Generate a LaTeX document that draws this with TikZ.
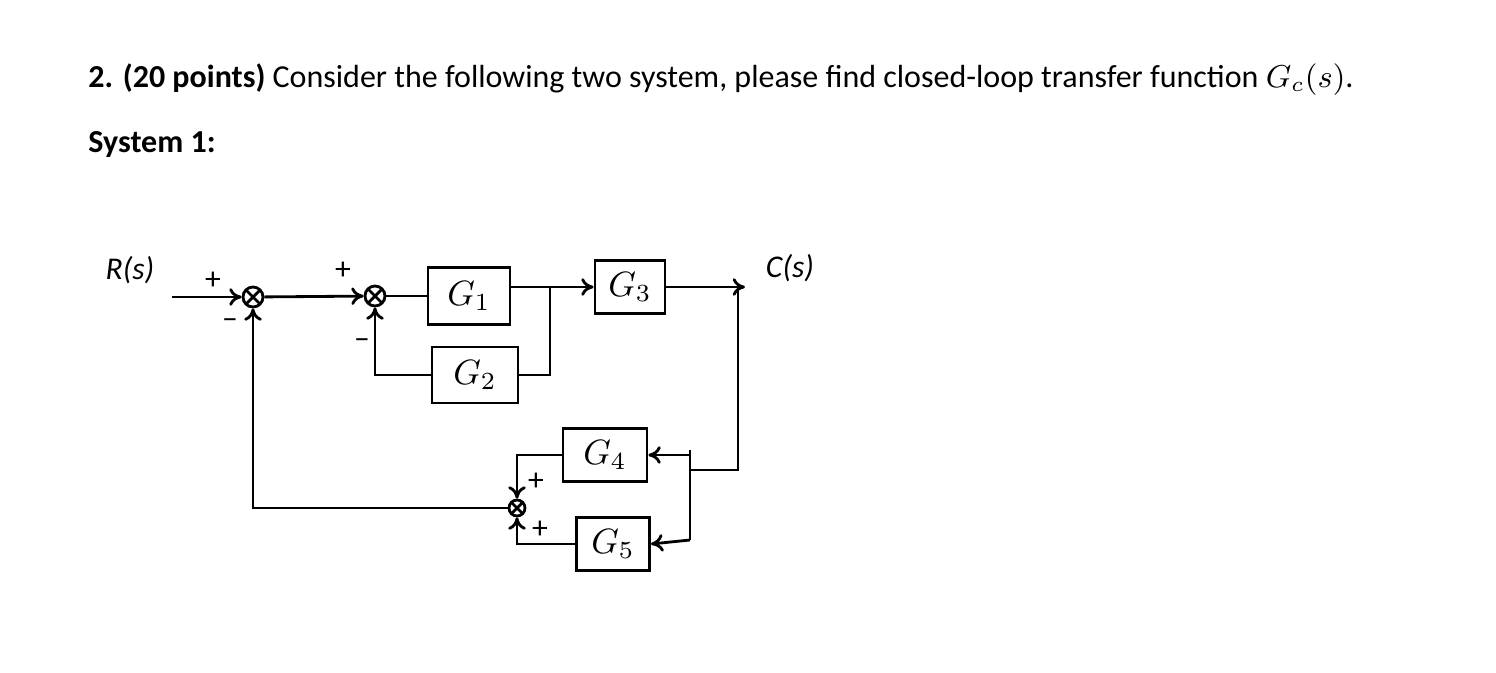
\documentclass[tikz,border=0pt]{standalone}
\usepackage{fontspec}
\setmainfont{Carlito}
\usetikzlibrary{arrows.meta}
\begin{document}
\begin{tikzpicture}[x=0.01cm,y=-0.01cm,
  sumj/.style={draw,thick,circle,minimum size=0.2cm,inner sep=0pt,
    path picture={\draw (path picture bounding box.north west)--(path picture bounding box.south east)
      (path picture bounding box.north east)--(path picture bounding box.south west);}},
  sig/.style={font=\fontsize{9}{10}\selectfont},
  lab/.style={font=\fontsize{9}{10}\selectfont\itshape},
  ln/.style={thick},
  ar/.style={thick,-{To[length=3.5pt,width=5pt]}}]
\useasboundingbox (0,0) rectangle (1496,672);
\node[anchor=west,font=\fontsize{9.1}{10}\selectfont] (title) at (76,80) {\textbf{2. (20 points)} Consider the following two system, please find closed-loop transfer function $G_c(s)$.};
\node[anchor=west,font=\fontsize{9.1}{10}\selectfont\bfseries] (sys) at (76,145) {System 1:};
\node[lab] (R) at (130,270) {R(s)};
\node[lab] (C) at (790,268) {C(s)};
\node[sumj] (s1) at (253,297) {};
\node[sumj] (s2) at (375,296) {};
\node[sumj,minimum size=0.16cm] (s3) at (517,508) {};
\node[draw,thick,minimum width=0.82cm,minimum height=0.57cm] (G1) at (469,296) {$G_1$};
\node[draw,thick,minimum width=0.86cm,minimum height=0.56cm] (G2) at (475,375) {$G_2$};
\node[draw,thick,minimum width=0.70cm,minimum height=0.50cm] (G3) at (630,287) {$G_3$};
\node[draw,thick,minimum width=0.84cm,minimum height=0.45cm] (G4) at (605,455) {$G_4$};
\node[draw,thick,minimum width=0.73cm,minimum height=0.48cm] (G5) at (613,544) {$G_5$};
\node[sig] at (213,281) {+};
\node[sig] at (230,324) {\textendash};
\node[sig] at (343,271) {+};
\node[sig] at (362,344) {\textendash};
\node[sig] at (536,482) {+};
\node[sig] at (540,530) {+};
\coordinate (in) at (172,297);
\coordinate (b1) at (550,287);
\coordinate (out) at (745,287);
\coordinate (b2) at (738,287);
\coordinate (b3) at (690,470);
\draw[ar] (in) -- (s1);
\draw[ar] (s1) -- (s2);
\draw[ln] (s2) -- (G1);
\draw[ar] (G1.east |- b1) -- (G3.west);
\draw[ln] (b1) |- (G2.east);
\draw[ar] (G2.west) -| (s2);
\draw[ar] (G3.east) -- (out);
\draw[ln] (b2) |- (b3);
\draw[ln] (690,450) -- (690,540);
\draw[ar] (690,455) -- (G4.east);
\draw[ar] (690,540) -- (G5.east);
\draw[ar] (G4.west) -| (s3);
\draw[ar] (G5.west) -| (s3);
\draw[ar] (s3) -| (s1);
\end{tikzpicture}
\end{document}
